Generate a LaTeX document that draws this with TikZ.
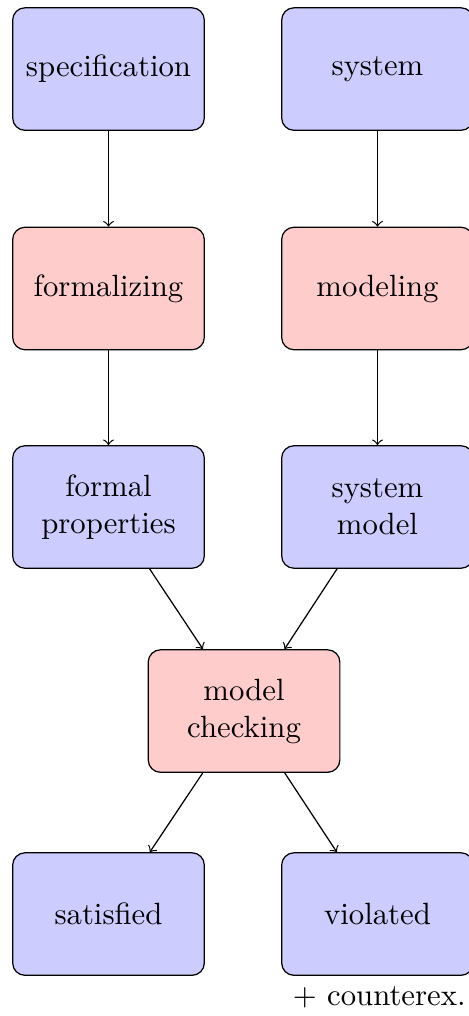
\documentclass[tikz,border=0pt]{standalone}
\begin{document}
\begin{tikzpicture}[>=to,line join=round,line cap=round,
  item/.style={draw,rounded corners,fill=blue!20,minimum width=2.19cm,minimum height=1.4cm,align=center},
  work/.style={item,fill=red!20}]
\useasboundingbox (0,0) rectangle (5.349,-11.611);
\node[item] (spec) at (1.24,-0.789) {specification};
\node[item] (sys) at (4.314,-0.789) {system};
\node[work] (formz) at (1.24,-3.297) {formalizing};
\node[work] (modl) at (4.314,-3.297) {modeling};
\node[item] (fprop) at (1.24,-5.794) {formal\\properties};
\node[item] (smod) at (4.314,-5.794) {system\\model};
\node[work] (mc) at (2.789,-8.126) {model\\checking};
\node[item] (sat) at (1.24,-10.446) {satisfied};
\node[item] (viol) at (4.314,-10.446) {violated};
\node[anchor=north east,inner xsep=2.5pt] (cex) at (viol.south east) {$+$ counterex.};
\draw[->] (spec)--(formz);
\draw[->] (formz)--(fprop);
\draw[->] (sys)--(modl);
\draw[->] (modl)--(smod);
\draw[->] (fprop)--(mc);
\draw[->] (smod)--(mc);
\draw[->] (mc)--(sat);
\draw[->] (mc)--(viol);
\end{tikzpicture}
\end{document}
